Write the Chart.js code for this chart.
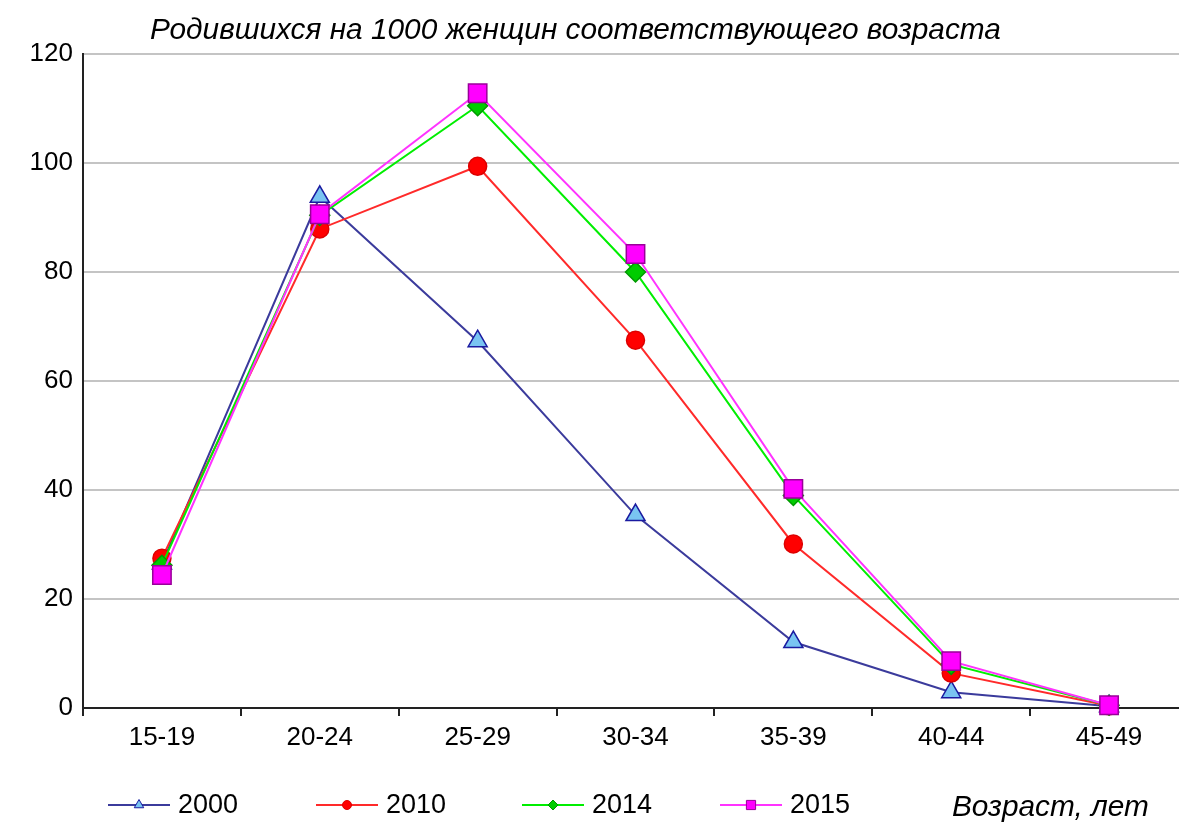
<!DOCTYPE html>
<html>
<head>
<meta charset="utf-8">
<script src="https://cdn.jsdelivr.net/npm/chart.js@4.4.1/dist/chart.umd.min.js"></script>
<style>
    html, body { margin: 0; padding: 0; background: #fff; overflow: hidden; }
    #clip { width: 1179px; height: 823px; overflow: hidden; position: relative; }
    #wrap { width: 1190px; height: 823px; position: absolute; left: 0; top: 0; }
    #birthChart { display: block; }
</style>
</head>
<body>
<div id="clip"><div id="wrap"><canvas id="birthChart"></canvas></div></div>
<script>
// age groups and births per 1000 women of that age
const ageGroups = ["15-19", "20-24", "25-29", "30-34", "35-39", "40-44", "45-49"];
const years = ["2000", "2010", "2014", "2015"];
const values2000 = [26.5, 93.8, 67.3, 35.4, 12.1, 2.9, 0.3];
const values2010 = [27.5, 87.9, 99.4, 67.5, 30.1, 6.4, 0.4];
const values2014 = [26.2, 90.4, 110.5, 80.0, 39.0, 8.0, 0.5];
const values2015 = [24.4, 90.6, 112.8, 83.3, 40.2, 8.6, 0.5];
const yTicks = [0, 20, 40, 60, 80, 100, 120];

const titleText = "Родившихся на 1000 женщин соответствующего возраста";
const xTitleText = "Возраст, лет";
const font = "'Liberation Sans', Arial, sans-serif";

document.addEventListener("DOMContentLoaded", function () {
    const data = {
        labels: ageGroups,
        datasets: [
            {
                label: years[0],
                data: values2000,
                borderColor: "#3b3b9c",
                backgroundColor: "#79c4f2",
                pointBorderColor: "#1a1aa0",
                pointStyle: "triangle",
                pointRadius: 11,
                order: 4,
            },
            {
                label: years[1],
                data: values2010,
                borderColor: "#ff2a2a",
                backgroundColor: "#ff0000",
                pointBorderColor: "#dd0000",
                pointStyle: "circle",
                pointRadius: 9,
                order: 3,
            },
            {
                label: years[2],
                data: values2014,
                borderColor: "#00ee00",
                backgroundColor: "#00cc00",
                pointBorderColor: "#009900",
                pointStyle: "rectRot",
                pointRadius: 10,
                order: 2,
            },
            {
                label: years[3],
                data: values2015,
                borderColor: "#ff33ff",
                backgroundColor: "#ff00ff",
                pointBorderColor: "#990099",
                pointStyle: "rect",
                pointRadius: 13,
                order: 1,
            },
        ],
    };
    data.datasets.forEach(function (ds) {
        ds.borderWidth = 2;
        ds.pointBackgroundColor = ds.backgroundColor;
        ds.pointBorderWidth = 1.5;
        ds.pointHoverRadius = ds.pointRadius;
        ds.fill = false;
        ds.tension = 0;
        ds.clip = false;
    });

    // title, custom legend and axis caption
    const decor = {
        id: "decor",
        afterDraw(chart) {
            const ctx = chart.ctx;
            ctx.save();
            ctx.fillStyle = "#000";
            ctx.textBaseline = "middle";
            ctx.textAlign = "left";
            ctx.font = "italic 29.8px " + font;
            ctx.fillText(titleText, 150, 31);
            ctx.fillText(xTitleText, 952, 808);

            ctx.font = "27px " + font;
            const startX = [108, 316, 522, 720];
            chart.data.datasets.forEach(function (ds, i) {
                const x0 = startX[i];
                const y = 805;
                ctx.strokeStyle = ds.borderColor;
                ctx.lineWidth = 2;
                ctx.beginPath();
                ctx.moveTo(x0, y);
                ctx.lineTo(x0 + 62, y);
                ctx.stroke();
                ctx.fillStyle = ds.backgroundColor;
                ctx.strokeStyle = ds.pointBorderColor;
                ctx.lineWidth = 1;
                Chart.helpers.drawPoint(ctx, {
                    pointStyle: ds.pointStyle,
                    radius: ds.pointRadius * 0.5,
                    borderWidth: 1,
                }, x0 + 31, y);
                ctx.fillStyle = "#000";
                ctx.fillText(ds.label, x0 + 70, y + 1);
            });
            ctx.restore();
        },
    };

    const ctx = document.getElementById("birthChart").getContext("2d");

    new Chart(ctx, {
        type: "line",
        data: data,
        plugins: [decor],
        options: {
            responsive: true,
            maintainAspectRatio: false,
            animation: false,
            devicePixelRatio: 1,
            layout: {
                autoPadding: false,
                padding: { top: 54, bottom: 55, left: 0, right: 2 },
            },
            scales: {
                x: {
                    offset: true,
                    grid: {
                        offset: true,
                        drawOnChartArea: false,
                        drawTicks: true,
                        tickLength: 8,
                        color: "#222",
                        lineWidth: 2,
                    },
                    border: { color: "#222", width: 2 },
                    ticks: {
                        color: "#000",
                        font: { family: font, size: 26 },
                        padding: 6,
                        maxRotation: 0,
                    },
                    afterFit(scale) {
                        scale.height = 60;
                    },
                },
                y: {
                    min: 0,
                    max: 120,
                    afterBuildTicks(scale) {
                        scale.ticks = yTicks.map(function (v) { return { value: v }; });
                    },
                    grid: {
                        drawTicks: false,
                        color: "#c4c4c4",
                        lineWidth: 2,
                    },
                    border: { color: "#222", width: 2 },
                    ticks: {
                        color: "#000",
                        font: { family: font, size: 26 },
                        padding: 10,
                    },
                    afterFit(scale) {
                        scale.width = 83;
                    },
                },
            },
            plugins: {
                legend: { display: false },
                title: { display: false },
                tooltip: { enabled: false },
            },
        },
    });
});
</script>
</body>
</html>
